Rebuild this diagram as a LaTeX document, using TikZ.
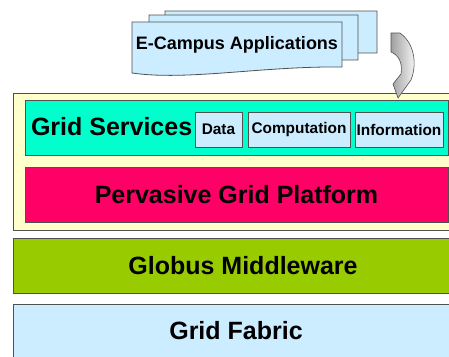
\documentclass[tikz,border=0pt]{standalone}
\usepackage{fontspec}
\setmainfont{Liberation Sans}
\definecolor{cream}{HTML}{FFFFCC}
\definecolor{servteal}{HTML}{00FFCC}
\definecolor{platpink}{HTML}{FF0066}
\definecolor{globgreen}{HTML}{99CC00}
\definecolor{paleblue}{HTML}{CCECFF}
\definecolor{edge}{HTML}{505050}
\newcommand{\docpage}[4]{%
\draw[docsheet] (#1,#2) -- (#3,#2) -- (#3,#4)
  .. controls +(-80,-1) and +(55,8) .. (#1,{#4+6}) -- cycle;}
\begin{document}
\begin{tikzpicture}[x=1pt,y=-1pt,
	every node/.style={inner sep=0,outer sep=0,font=\bfseries\fontsize{25}{28}\selectfont},
	layer/.style={draw=edge,line width=0.9pt,anchor=north west},
	subbox/.style={layer,fill=paleblue,font=\bfseries\fontsize{15.4}{17}\selectfont},
	docsheet/.style={draw=edge,line width=0.8pt,fill=paleblue}]
\clip (0,0) rectangle (449,356);
% application pages
\docpage{165}{11}{377}{53}
\docpage{149}{15}{358}{60}
\docpage{132}{22}{342}{67}
\node[font=\bfseries\fontsize{18}{20}\selectfont] (apps) at (237,45) {E-Campus Applications};
% layers
\node[layer,fill=cream,minimum width=460,minimum height=137] (pgrid) at (13,93) {};
\node[layer,fill=servteal,minimum width=423,minimum height=55] (services) at (25,100) {};
\node[anchor=base west] (servlabel) at (31,135) {Grid Services};
\node[subbox,minimum width=47,minimum height=35] (data) at (195,112) {Data};
\node[subbox,minimum width=102,minimum height=35] (comp) at (248,112) {Computation};
\node[subbox,minimum width=88,minimum height=35] (info) at (355,112) {Information};
\node[layer,fill=platpink,minimum width=423,minimum height=55] (platform) at (25,167) {Pervasive Grid Platform};
\node[layer,fill=globgreen,minimum width=460,minimum height=55] (globus) at (13,238) {Globus Middleware};
\node[layer,fill=paleblue,minimum width=460,minimum height=70] (fabric) at (13,304) {};
\node (fablabel) at (236,331) {Grid Fabric};
% curved arrow
\path[shade,left color=gray!75,right color=white,draw=edge,line width=0.6pt]
  (391,33) -- (400,33) .. controls (413,42) and (418,62) .. (411,80)
  -- (398,98) -- (393,84) -- (401,74)
  .. controls (403,62) and (398,55) .. (391,52) -- cycle;
\end{tikzpicture}
\end{document}
